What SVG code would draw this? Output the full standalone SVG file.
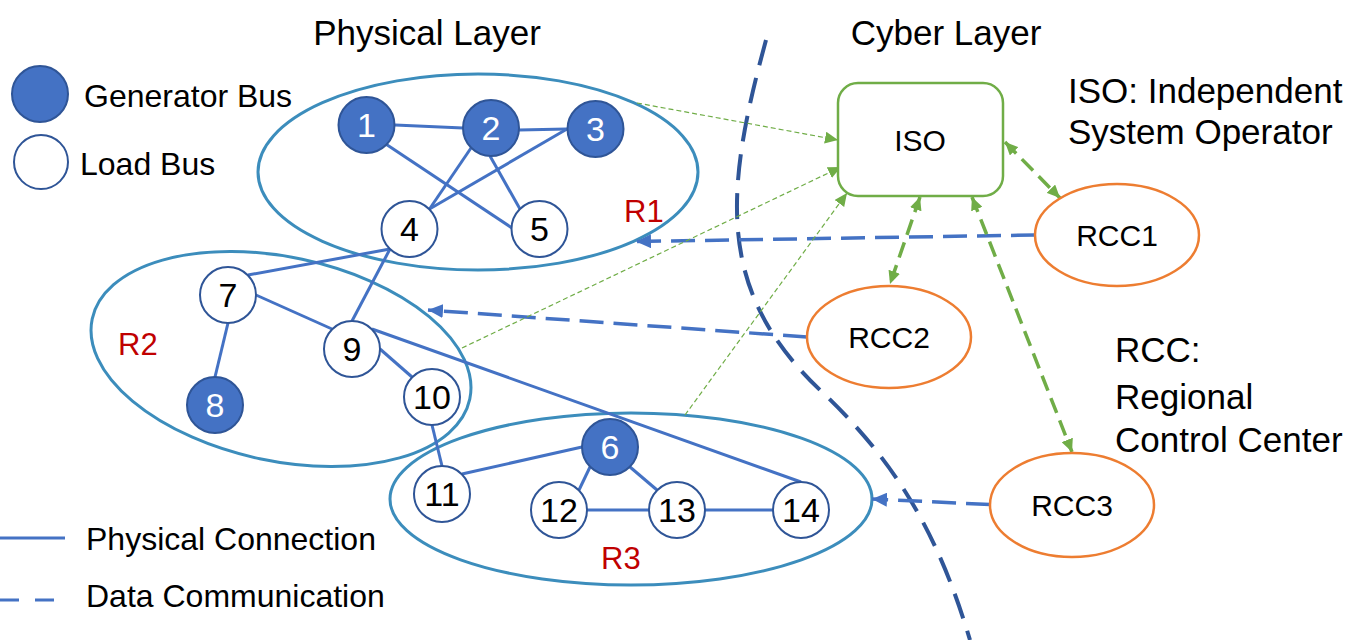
<svg xmlns="http://www.w3.org/2000/svg" width="1370" height="640" viewBox="0 0 1370 640">
<style>
text{font-family:"Liberation Sans",Arial,sans-serif;fill:#000}
.title{font-size:35px}
.leg{font-size:32px}
.note{font-size:35px}
.gen{fill:#4472C4;stroke:#2F5597;stroke-width:2}
.load{fill:#fff;stroke:#2F5597;stroke-width:2}
.num{font-size:34px;text-anchor:middle}
.wnum{fill:#fff}
.region{fill:none;stroke:#3C8DBC;stroke-width:3}
.rlab{font-size:31px;fill:#C00000}
.phys{stroke:#4472C4;stroke-width:3;fill:none}
.data{stroke:#4472C4;stroke-width:3.5;fill:none;stroke-dasharray:24 10}
.thin{stroke:#70AD47;stroke-width:1.2;fill:none;stroke-dasharray:5 3}
.thick{stroke:#70AD47;stroke-width:3.5;fill:none;stroke-dasharray:16 8}
.rcc{fill:#fff;stroke:#ED7D31;stroke-width:2.5}
.cyber{font-size:30px;text-anchor:middle}
</style>
<defs>
<marker id="ab" markerUnits="userSpaceOnUse" markerWidth="16" markerHeight="14" refX="15" refY="7" orient="auto"><path d="M0,0 L15,7 L0,14 z" fill="#4472C4"/></marker>
<marker id="ag" markerUnits="userSpaceOnUse" markerWidth="14" markerHeight="12" refX="13" refY="6" orient="auto"><path d="M0,0 L13,6 L0,12 z" fill="#70AD47"/></marker>
<marker id="agd" markerUnits="userSpaceOnUse" markerWidth="14" markerHeight="12" refX="13" refY="6" orient="auto-start-reverse"><path d="M0,0 L13,6 L0,12 z" fill="#70AD47"/></marker>
</defs>
<rect width="1370" height="640" fill="#fff"/>

<g id="boundary">
<path d="M766,40 C725,190 715,290 820,390 C900,465 940,540 970,640" fill="none" stroke="#2F5597" stroke-width="4" stroke-dasharray="26 13"/>
</g>

<g id="regions">
<ellipse id="R1" class="region" cx="478" cy="172" rx="220" ry="98"/>
<ellipse id="R2" class="region" cx="281" cy="359" rx="193" ry="102" transform="rotate(12 281 359)"/>
<ellipse id="R3" class="region" cx="631" cy="499" rx="241" ry="86"/>
<text class="rlab" x="624" y="222">R1</text>
<text class="rlab" x="118" y="355">R2</text>
<text class="rlab" x="601" y="569">R3</text>
</g>

<g id="legend">
<circle class="gen" cx="40" cy="94" r="28"/>
<text class="leg" x="84" y="107">Generator Bus</text>
<circle class="load" cx="41" cy="162" r="27"/>
<text class="leg" x="80" y="175">Load Bus</text>
<line class="phys" x1="0" y1="538" x2="65" y2="538"/>
<text class="leg" x="86" y="550">Physical Connection</text>
<line x1="0" y1="600" x2="60" y2="600" stroke="#4472C4" stroke-width="3" stroke-dasharray="19 16"/>
<text class="leg" x="86" y="607">Data Communication</text>
</g>

<g id="titles">
<text class="title" x="427" y="45" text-anchor="middle">Physical Layer</text>
<text class="title" x="946" y="45" text-anchor="middle">Cyber Layer</text>
<text class="note" x="1068" y="103">ISO: Independent</text>
<text class="note" x="1068" y="144">System Operator</text>
<text class="note" x="1115" y="362">RCC:</text>
<text class="note" x="1115" y="409">Regional</text>
<text class="note" x="1115" y="452">Control Center</text>
</g>

<g id="connectors">
<line class="phys" x1="395" y1="125" x2="463" y2="128"/>
<line class="phys" x1="386.5" y1="144.5" x2="512" y2="228"/>
<line class="phys" x1="519" y1="130" x2="567" y2="129"/>
<line class="phys" x1="471" y1="148" x2="429.5" y2="209"/>
<line class="phys" x1="567" y1="129" x2="429.5" y2="209"/>
<line class="phys" x1="490" y1="156" x2="520" y2="209"/>
<line class="phys" x1="390" y1="249" x2="248" y2="275"/>
<line class="phys" x1="390" y1="249" x2="352" y2="321"/>
<line class="phys" x1="256" y1="295" x2="332" y2="329"/>
<line class="phys" x1="228" y1="323" x2="215" y2="377"/>
<line class="phys" x1="380" y1="349" x2="412" y2="377"/>
<line class="phys" x1="372" y1="329" x2="801" y2="482"/>
<line class="phys" x1="432" y1="425" x2="442" y2="466"/>
<line class="phys" x1="462" y1="474" x2="582" y2="447"/>
<line class="phys" x1="590" y1="467" x2="579" y2="490"/>
<line class="phys" x1="630" y1="467" x2="657" y2="490"/>
<line class="phys" x1="587" y1="510" x2="649" y2="510"/>
<line class="phys" x1="705" y1="510" x2="773" y2="510"/>

<line class="data" x1="1035" y1="235" x2="636" y2="241.5" marker-end="url(#ab)"/>
<line class="data" x1="807" y1="337" x2="428" y2="310" marker-end="url(#ab)"/>
<line class="data" x1="990" y1="504.5" x2="872" y2="499" marker-end="url(#ab)"/>

<line class="thin" x1="637" y1="103" x2="838" y2="140" marker-end="url(#ag)"/>
<line class="thin" x1="462" y1="348" x2="841" y2="167" marker-end="url(#ag)"/>
<line class="thin" x1="685" y1="415" x2="847" y2="193" marker-end="url(#ag)"/>

<line class="thick" x1="1005" y1="142" x2="1060" y2="198" marker-start="url(#agd)" marker-end="url(#agd)"/>
<line class="thick" x1="920" y1="197" x2="890" y2="284" marker-start="url(#agd)" marker-end="url(#agd)"/>
<line class="thick" x1="972" y1="197" x2="1072" y2="452" marker-start="url(#agd)" marker-end="url(#agd)"/>
</g>

<g id="n1"><circle class="gen" cx="366.5" cy="125" r="28"/><text class="num wnum" x="366.5" y="137">1</text></g>
<g id="n2"><circle class="gen" cx="491" cy="128" r="28"/><text class="num wnum" x="491" y="140">2</text></g>
<g id="n3"><circle class="gen" cx="595.5" cy="129" r="28"/><text class="num wnum" x="595.5" y="141">3</text></g>
<g id="n4"><circle class="load" cx="409.5" cy="229" r="28"/><text class="num" x="409.5" y="241">4</text></g>
<g id="n5"><circle class="load" cx="539.5" cy="229" r="28"/><text class="num" x="539.5" y="241">5</text></g>
<g id="n6"><circle class="gen" cx="610" cy="447" r="28"/><text class="num wnum" x="610" y="459">6</text></g>
<g id="n7"><circle class="load" cx="228" cy="295" r="28"/><text class="num" x="228" y="307">7</text></g>
<g id="n8"><circle class="gen" cx="215" cy="405" r="28"/><text class="num wnum" x="215" y="417">8</text></g>
<g id="n9"><circle class="load" cx="352" cy="349" r="28"/><text class="num" x="352" y="361">9</text></g>
<g id="n10"><circle class="load" cx="432" cy="397" r="28"/><text class="num" x="432" y="409">10</text></g>
<g id="n11"><circle class="load" cx="442" cy="494" r="28"/><text class="num" x="442" y="506">11</text></g>
<g id="n12"><circle class="load" cx="559" cy="510" r="28"/><text class="num" x="559" y="522">12</text></g>
<g id="n13"><circle class="load" cx="677" cy="510" r="28"/><text class="num" x="677" y="522">13</text></g>
<g id="n14"><circle class="load" cx="801" cy="510" r="28"/><text class="num" x="801" y="522">14</text></g>

<g id="ISO"><rect x="838" y="83" width="165" height="113" rx="20" fill="#fff" stroke="#70AD47" stroke-width="2.5"/><text class="cyber" x="920" y="151">ISO</text></g>
<g id="RCC1"><ellipse class="rcc" cx="1117" cy="235" rx="82" ry="51"/><text class="cyber" x="1117" y="246">RCC1</text></g>
<g id="RCC2"><ellipse class="rcc" cx="889" cy="337" rx="82" ry="51"/><text class="cyber" x="889" y="348">RCC2</text></g>
<g id="RCC3"><ellipse class="rcc" cx="1072" cy="505" rx="82" ry="52"/><text class="cyber" x="1072" y="516">RCC3</text></g>
</svg>
